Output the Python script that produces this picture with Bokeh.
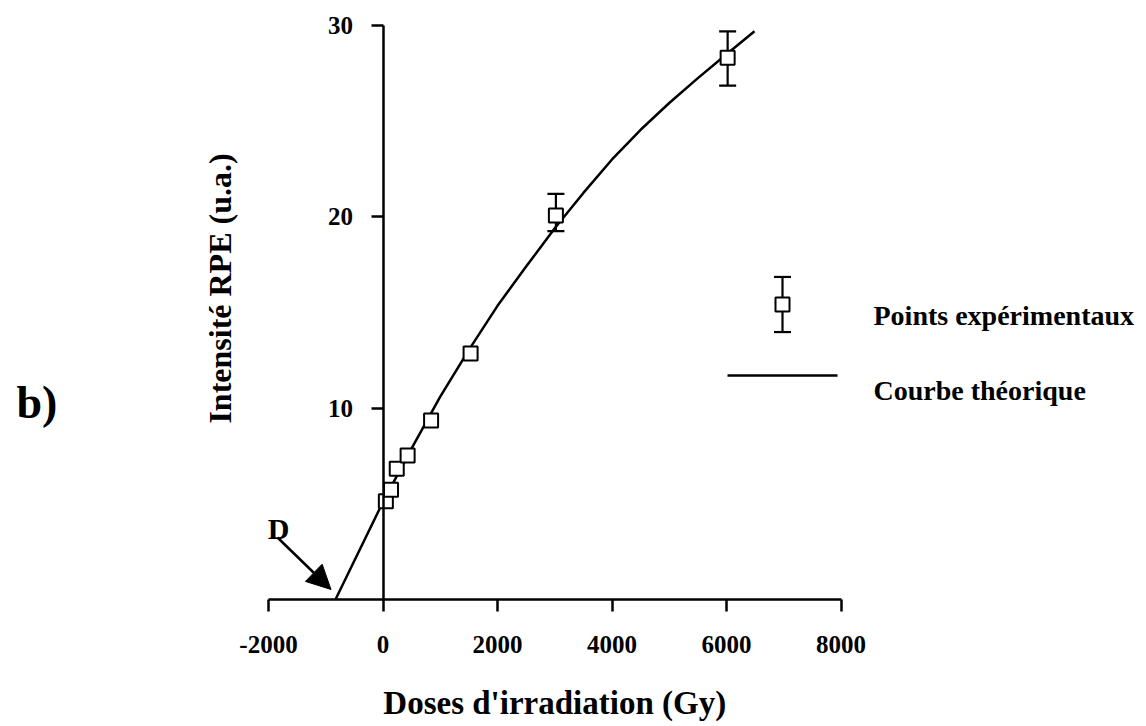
import math
from bokeh.plotting import figure
from bokeh.models import (Range1d, LinearAxis, FixedTicker, Whisker, TeeHead,
                          ColumnDataSource, Label, Arrow, NormalHead, Grid)
from bokeh.embed import file_html
from bokeh.resources import INLINE

# ---------------- data ----------------
DOSE = [50, 140, 240, 430, 840, 1530, 3020, 6020]            # Gy
INTENSITE = [5.14, 5.73, 6.83, 7.53, 9.36, 12.86, 20.07, 28.31]
ERR_LOWER = [5.14, 5.73, 6.83, 7.53, 9.36, 12.86, 19.25, 26.86]
ERR_UPPER = [5.14, 5.73, 6.83, 7.53, 9.36, 12.86, 21.20, 29.69]

CURVE_X = [-830, 0, 500, 1000, 1500, 2000, 2500, 3000, 3500, 4000, 4500,
           5000, 5500, 6000, 6490]
CURVE_Y = [0.0, 5.1, 7.9, 10.6, 13.05, 15.35, 17.4, 19.4, 21.25, 23.0,
           24.55, 25.95, 27.25, 28.5, 29.7]

X_TICKS = [-2000, 0, 2000, 4000, 6000, 8000]
X_TICK_LABELS = ["-2000", "0", "2000", "4000", "6000", "8000"]
Y_TICKS = [10, 20, 30]
Y_TICK_LABELS = ["10", "20", "30"]

X_TITLE = "Doses d'irradiation (Gy)"
Y_TITLE = "Intensité RPE (u.a.)"
LEGEND_POINTS = "Points expérimentaux"
LEGEND_CURVE = "Courbe théorique"
PANEL_LABEL = "b)"
D_LABEL = "D"

# ---------------- layout ----------------
W, H = 1146, 726
PX_X0, PX_PER_X = 268.0, 0.05725      # pixel of x=-2000, px per Gy
PX_Y0, PX_PER_Y = 599.0, 19.133       # pixel of y=0, px per unit
X_START = -2000 - PX_X0 / PX_PER_X
X_END = -2000 + (W - PX_X0) / PX_PER_X
Y_START = -(H - PX_Y0) / PX_PER_Y
Y_END = PX_Y0 / PX_PER_Y


def dx(px):
    return -2000 + (px - PX_X0) / PX_PER_X


def dy(py):
    return (PX_Y0 - py) / PX_PER_Y


LEG_SYM_X, LEG_SYM_Y, LEG_SYM_ERR = dx(782), dy(304), 1.44
LEG_LINE_X = [dx(727), dx(837)]
LEG_LINE_Y = dy(375)
LEG_TEXT_X = dx(873)
LEG_TEXT1_Y = dy(315)
LEG_TEXT2_Y = dy(390)

D_POS = (dx(278), dy(528))
ARROW_START = (dx(277), dy(537))
ARROW_END = (dx(330.5), dy(589))
PANEL_POS = (dx(16), dy(402))
X_TITLE_POS = (3000, dy(702))
Y_TITLE_POS = (dx(219), dy(288))

FONT = "Liberation Serif"

p = figure(width=W, height=H, output_backend="svg", toolbar_location=None,
           x_range=Range1d(X_START, X_END), y_range=Range1d(Y_START, Y_END),
           x_axis_location=None, y_axis_location=None, min_border=0,
           outline_line_color=None, background_fill_color="white",
           border_fill_color="white")
for g in p.select(type=Grid):
    g.visible = False


def style_axis(ax):
    ax.axis_line_width = 2.5
    ax.axis_line_color = "black"
    ax.major_tick_line_width = 2.5
    ax.major_tick_line_color = "black"
    ax.major_tick_out = 12
    ax.major_tick_in = 0
    ax.minor_tick_out = 0
    ax.minor_tick_in = 0
    ax.major_label_text_font = FONT
    ax.major_label_text_font_style = "bold"
    ax.major_label_text_font_size = "25px"
    ax.major_label_text_color = "black"


xaxis = LinearAxis(fixed_location=0, bounds=(X_TICKS[0], X_TICKS[-1]),
                   ticker=FixedTicker(ticks=X_TICKS),
                   major_label_overrides=dict(zip(X_TICKS, X_TICK_LABELS)))
style_axis(xaxis)
xaxis.major_label_standoff = 24
p.add_layout(xaxis, "below")

yaxis = LinearAxis(fixed_location=0, bounds=(0, Y_TICKS[-1]),
                   ticker=FixedTicker(ticks=Y_TICKS),
                   major_label_overrides=dict(zip(Y_TICKS, Y_TICK_LABELS)))
style_axis(yaxis)
yaxis.major_label_standoff = 18
yaxis.major_label_orientation = "horizontal"
p.add_layout(yaxis, "left")

# theoretical curve
p.line(CURVE_X, CURVE_Y, line_width=2.5, line_color="black", line_join="round")

# error bars (only where visible)
idx = [i for i in range(len(DOSE)) if ERR_UPPER[i] != ERR_LOWER[i]]
err_src = ColumnDataSource(dict(x=[DOSE[i] for i in idx],
                                lower=[ERR_LOWER[i] for i in idx],
                                upper=[ERR_UPPER[i] for i in idx]))


def whisker(src):
    return Whisker(source=src, base="x", lower="lower", upper="upper",
                   dimension="height", line_width=2.2, line_color="black",
                   level="underlay",
                   upper_head=TeeHead(size=17, line_width=2.2, line_color="black"),
                   lower_head=TeeHead(size=17, line_width=2.2, line_color="black"))


p.add_layout(whisker(err_src))

# experimental points
p.scatter(DOSE, INTENSITE, marker="square", size=14, fill_color="white",
          line_color="black", line_width=2)

# legend (drawn manually)
leg_src = ColumnDataSource(dict(x=[LEG_SYM_X], lower=[LEG_SYM_Y - LEG_SYM_ERR],
                                upper=[LEG_SYM_Y + LEG_SYM_ERR]))
p.add_layout(whisker(leg_src))
p.scatter([LEG_SYM_X], [LEG_SYM_Y], marker="square", size=14, fill_color="white",
          line_color="black", line_width=2)
p.line(LEG_LINE_X, [LEG_LINE_Y, LEG_LINE_Y], line_width=2.5, line_color="black")

txt = dict(text_font=FONT, text_font_style="bold", text_color="black")
p.add_layout(Label(x=LEG_TEXT_X, y=LEG_TEXT1_Y, text=LEGEND_POINTS,
                   text_font_size="28px", text_baseline="alphabetic", **txt))
p.add_layout(Label(x=LEG_TEXT_X, y=LEG_TEXT2_Y, text=LEGEND_CURVE,
                   text_font_size="28px", text_baseline="alphabetic", **txt))

# axis titles
p.add_layout(Label(x=X_TITLE_POS[0], y=X_TITLE_POS[1], text=X_TITLE,
                   text_font_size="33px", text_align="center",
                   text_baseline="alphabetic", **txt))
p.add_layout(Label(x=Y_TITLE_POS[0], y=Y_TITLE_POS[1], text=Y_TITLE,
                   text_font_size="32px", text_align="center",
                   text_baseline="middle", angle=math.pi / 2, **txt))

# D marker and arrow
p.add_layout(Label(x=D_POS[0], y=D_POS[1], text=D_LABEL, text_font_size="30px",
                   text_align="center", text_baseline="alphabetic", **txt))
p.add_layout(Arrow(x_start=ARROW_START[0], y_start=ARROW_START[1],
                   x_end=ARROW_END[0], y_end=ARROW_END[1],
                   line_width=2.5, line_color="black",
                   end=NormalHead(size=24, fill_color="black", line_color="black",
                                  line_width=1)))

# panel label
p.add_layout(Label(x=PANEL_POS[0], y=PANEL_POS[1], text=PANEL_LABEL,
                   text_font_size="46px", text_baseline="alphabetic", **txt))

open("out.html", "w").write(file_html(p, INLINE))
